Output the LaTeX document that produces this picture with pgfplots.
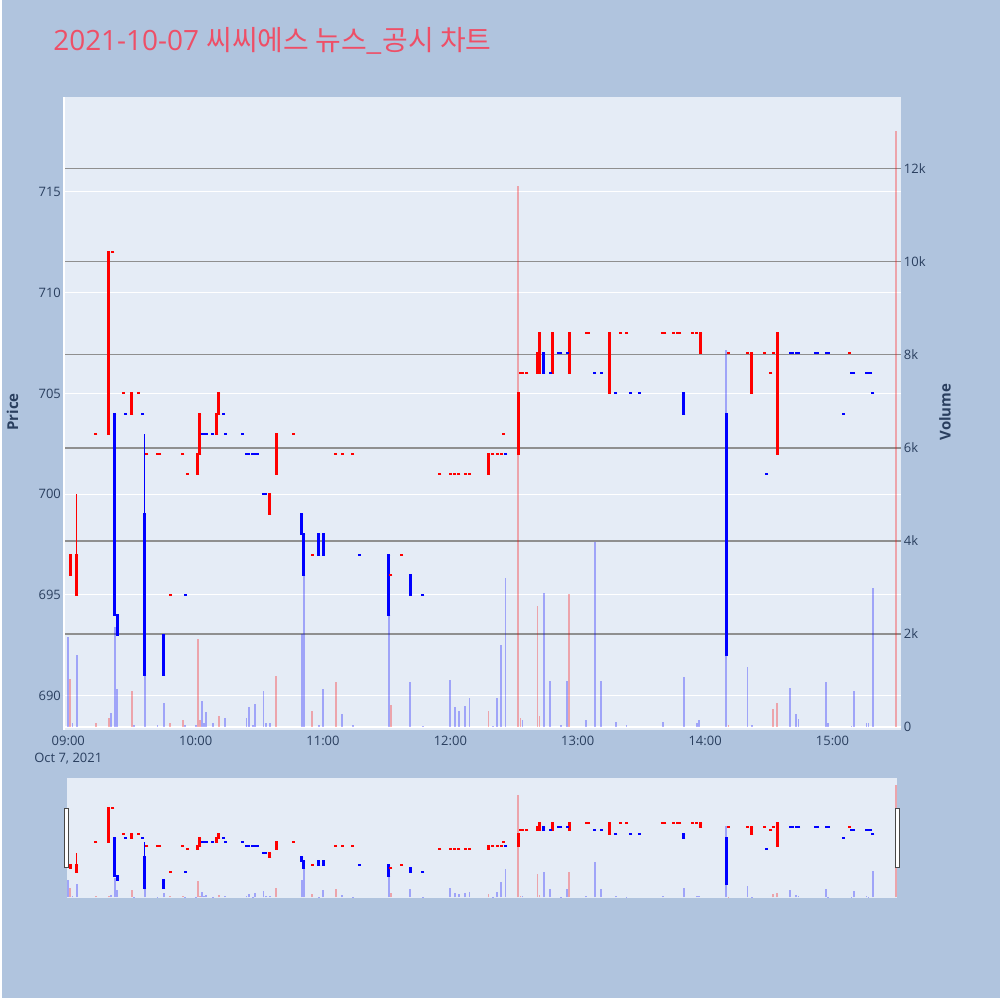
\documentclass[border=0pt]{standalone}
\usepackage{pgfplots}
\pgfplotsset{compat=1.18}
\usepackage{pgfplotstable}
\usepackage{fontspec}
\setmainfont{Open Sans}
\newfontfamily\cjk{Noto Sans CJK KR}
\definecolor{pagebg}{HTML}{B0C4DE}
\definecolor{plotbg}{HTML}{E5ECF6}
\definecolor{axtext}{HTML}{2A3F5F}
\definecolor{titlecol}{HTML}{EE4F67}
\definecolor{vgrid}{HTML}{8F8F8F}
\definecolor{upc}{HTML}{FF0000}
\definecolor{dnc}{HTML}{0000FF}

\pgfplotstableread{
m lo hi
1 696 697
4 695 697
19 703 712
30 704 705
61 701 702
62 702 704
70 703 704
71 704 705
95 699 700
98 701 703
198 701 702
212 702 705
221 706 707
222 706 708
228 706 708
236 706 708
255 705 708
298 707 708
322 705 707
334 702 708
}\upbody

\pgfplotstableread{
m lo hi
22 694 704
23 693 694
36 691 699
45 691 693
110 698 699
111 696 698
118 697 698
120 697 698
151 694 697
161 695 696
224 706 707
290 704 705
310 692 704
}\dnbody

\pgfplotstableread{
m l h
4 695 700
}\upwick

\pgfplotstableread{
m l h
36 691 703
}\dnwick

\pgfplotstableread{
m p
13 703
21 712
26 705
33 705
37 702
42 702
43 702
48 695
54 702
56 701
106 703
115 697
126 702
129 702
134 702
152 696
157 697
175 701
180 701
182 701
184 701
187 701
189 701
200 702
202 702
204 702
205 703
213 706
214 706
216 706
244 708
245 708
260 708
263 708
280 708
281 708
285 708
287 708
288 708
294 708
296 708
311 707
320 707
328 707
331 706
332 707
368 707
}\updoji

\pgfplotstableread{
m p
27 704
35 704
55 695
63 703
64 703
65 703
68 703
73 704
74 703
82 703
84 702
85 702
87 702
88 702
89 702
92 700
93 700
137 697
167 695
206 702
227 706
231 707
232 707
235 707
248 706
251 706
258 705
265 705
269 705
329 701
340 707
341 707
343 707
344 707
352 707
353 707
357 707
358 707
365 704
369 706
370 706
376 706
377 706
378 706
379 705
}\dndoji

\pgfplotstableread{
m v
1 1.03
13 0.10
19 0.19
30 0.78
48 0.10
54 0.15
61 1.89
62 0.15
71 0.24
98 1.09
115 0.34
126 0.98
152 0.47
198 0.34
212 11.63
213 0.19
221 2.60
222 0.25
236 2.85
311 0.05
332 0.39
334 0.53
390 12.80
}\upvol

\pgfplotstableread{
m v
0 1.93
2 0.10
4 1.55
20 0.30
22 2.15
23 0.83
31 0.05
36 3.30
42 0.05
45 0.53
55 0.05
60 0.05
63 0.57
64 0.10
65 0.32
68 0.08
74 0.20
84 0.20
85 0.43
87 0.05
88 0.49
92 0.77
93 0.10
95 0.10
110 2.00
111 3.30
118 0.05
120 0.82
129 0.28
134 0.05
151 2.50
161 0.98
167 0.03
180 1.01
182 0.44
184 0.34
187 0.45
189 0.62
200 0.03
202 0.62
204 1.76
206 3.20
214 0.15
224 2.88
227 0.99
232 0.05
235 0.99
244 0.15
248 3.98
251 0.99
258 0.12
263 0.05
280 0.11
290 1.07
296 0.10
297 0.15
310 8.10
320 1.29
322 0.05
340 0.84
343 0.28
344 0.18
357 0.98
358 0.08
369 0.03
370 0.77
376 0.10
377 0.08
379 2.98
}\dnvol

\pgfplotsset{
  common/.style={scale only axis, width=419.85pt, xmin=-2.35, xmax=392.25, anchor=south west},
  mainax/.style={common, at={(30.5pt,134.25pt)}, height=317.25pt},
  sliderax/.style={common, at={(30.5pt,50pt)}, height=60pt},
  pricey/.style={ymin=688.31, ymax=719.72},
  voly/.style={ymin=-0.054, ymax=13.539},
  body/.style={draw=none, mark=none, forget plot, error bars/.cd, y dir=plus, y explicit, error mark=none, error bar style={line width=1.5pt, draw=#1}},
  wick/.style={draw=none, mark=none, forget plot, error bars/.cd, y dir=plus, y explicit, error mark=none, error bar style={line width=0.5pt, draw=#1}},
  edge/.style={only marks, mark=-, mark size=0.75pt, forget plot, mark options={line width=1pt, draw=#1}},
  vbar/.style={ycomb, mark=none, forget plot, opacity=0.3, line width=0.9pt},
  tickfont/.style={font=\fontsize{6.5}{7.5}\selectfont},
}

\newcommand\candles{%
  \addplot[wick=upc] table[x=m, y=l, y error expr=\thisrow{h}-\thisrow{l}] {\upwick};
  \addplot[wick=dnc] table[x=m, y=l, y error expr=\thisrow{h}-\thisrow{l}] {\dnwick};
  \addplot[body=upc] table[x=m, y=lo, y error expr=\thisrow{hi}-\thisrow{lo}] {\upbody};
  \addplot[body=dnc] table[x=m, y=lo, y error expr=\thisrow{hi}-\thisrow{lo}] {\dnbody};
  \addplot[edge=upc] table[x=m, y=lo] {\upbody};
  \addplot[edge=upc] table[x=m, y=hi] {\upbody};
  \addplot[edge=dnc] table[x=m, y=lo] {\dnbody};
  \addplot[edge=dnc] table[x=m, y=hi] {\dnbody};
  \addplot[edge=upc] table[x=m, y=p] {\updoji};
  \addplot[edge=dnc] table[x=m, y=p] {\dndoji};
}
\newcommand\volumes{%
  \addplot[upc, vbar] table[x=m, y=v] {\upvol};
  \addplot[dnc, vbar] table[x=m, y=v] {\dnvol};
}

\begin{document}
\begin{tikzpicture}
\fill[pagebg] (0,0) rectangle (500pt,500pt);

% title
\node[anchor=base west, inner sep=0pt, text=titlecol, font=\fontsize{14}{16}\selectfont] at (25.3pt,474.85pt) {2021-10-07 {\cjk 씨씨에스 뉴스\_공시 차트}};

% main price axis: background, white grid, labels
\begin{axis}[mainax, pricey,
  axis background/.style={fill=plotbg},
  axis line style={draw=none}, major tick length=0pt,
  xtick={0,60,120,180,240,300,360},
  xticklabels={{09:00\\Oct 7, 2021},10:00,11:00,12:00,13:00,14:00,15:00},
  ytick={690,695,700,705,710,715},
  yticklabels={690,695,700,705,710,715},
  ymajorgrids, major grid style={white, line width=0.5pt},
  yticklabel style={font=\fontsize{6.5}{7.5}\selectfont, text=axtext, anchor=east, inner sep=0pt, xshift=-1pt},
  xticklabel style={font=\fontsize{6.5}{8.5}\selectfont, text=axtext, anchor=north, inner sep=0pt, yshift=-3pt, align=center},
]
\end{axis}

% volume axis
\begin{axis}[mainax, voly,
  axis line style={draw=none}, major tick length=0pt,
  xtick=\empty,
  ytick={2,4,6,8,10,12}, yticklabels={2k,4k,6k,8k,10k,12k},
  yticklabel pos=right,
  ymajorgrids, major grid style={vgrid, line width=0.75pt},
  extra y ticks={0}, extra y tick labels={0},
  extra y tick style={ymajorgrids=true, major grid style={white, line width=1pt}},
  yticklabel style={font=\fontsize{6.5}{7.5}\selectfont, text=axtext, anchor=west, inner sep=0pt, xshift=1.3pt},
]
\volumes
\end{axis}

% candles
\begin{axis}[mainax, pricey, hide axis]
\candles
\end{axis}

\draw[white, line width=0.8pt] (30.9pt,134.25pt) -- (30.9pt,451.5pt);

% axis titles
\node[rotate=90, text=axtext, font=\bfseries\fontsize{7.5}{8.5}\selectfont] at (5pt,293.5pt) {Price};
\node[rotate=90, text=axtext, font=\bfseries\fontsize{7.5}{8.5}\selectfont] at (472.5pt,293.5pt) {Volume};

% range slider
\fill[plotbg] (32.5pt,50pt) rectangle (448.5pt,110pt);
\begin{axis}[sliderax, voly, hide axis]
\volumes
\end{axis}
\begin{axis}[sliderax, pricey, hide axis]
\candles
\end{axis}
\draw[fill=white, draw=black!72, line width=0.5pt] (31.3pt,65pt) rectangle (33.3pt,95pt);
\draw[fill=white, draw=black!72, line width=0.5pt] (447.6pt,65pt) rectangle (449.6pt,95pt);
\end{tikzpicture}
\end{document}
